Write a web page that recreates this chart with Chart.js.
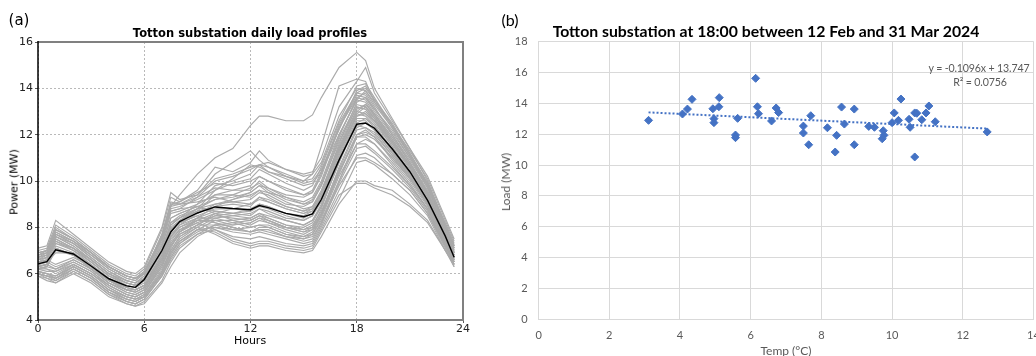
<!DOCTYPE html>
<html>
<head>
<meta charset="utf-8">
<script src="https://cdn.jsdelivr.net/npm/chart.js@4.4.1/dist/chart.umd.min.js"></script>
<style>
  html, body { margin: 0; padding: 0; background: #fff; overflow: hidden; }
  body { width: 1036px; height: 356px; position: relative; }
  .box { position: absolute; top: 0; height: 356px; }
  #boxA { left: 0; width: 490px; }
  #boxB { left: 490px; width: 570px; }
  .txt { position: absolute; white-space: nowrap; transform: translate(-50%, -50%); line-height: 1; }
  .mpl { font-family: "DejaVu Sans", sans-serif; color: #000; }
  .xl { font-family: Lato, "Open Sans", sans-serif; color: #595959; }
  .rot { transform: translate(-50%, -50%) rotate(-90deg); }
</style>
</head>
<body>
<div class="box" id="boxA"><canvas id="profileChart"></canvas></div>
<div class="box" id="boxB"><canvas id="scatterChart"></canvas></div>

<div class="txt mpl" style="left:19px; top:20px; font-size:15px;">(a)</div>
<div class="txt mpl" style="left:250px; top:34px; font-size:11.5px; font-weight:bold;">Totton substation daily load profiles</div>
<div class="txt mpl rot" style="left:14px; top:182px; font-size:11px;">Power (MW)</div>
<div class="txt mpl" style="left:250px; top:340px; font-size:11px;">Hours</div>

<div class="txt xl" style="left:510px; top:20px; font-size:16px; color:#000;">(b)</div>
<div class="txt xl" style="left:766px; top:31px; font-size:15.8px; font-weight:bold; color:#000;">Totton substation at 18:00 between 12 Feb and 31 Mar 2024</div>
<div class="txt xl rot" style="left:506px; top:182px; font-size:12px;">Load (MW)</div>
<div class="txt xl" style="left:786px; top:351px; font-size:12px;">Temp (°C)</div>
<div class="txt xl" style="left:979px; top:68px; font-size:10.6px; letter-spacing:-0.15px;">y = -0.1096x + 13.747</div>
<div class="txt xl" style="left:980px; top:82px; font-size:10.6px; letter-spacing:-0.15px;">R² = 0.0756</div>

<script>
// (a) daily load profiles, hours of the day
const hours = [0, 0.5, 1, 2, 3, 4, 5, 5.5, 6, 7, 7.5, 8, 9, 10, 11, 12, 12.5, 13, 14, 15, 15.5, 16, 17, 18, 18.5, 19, 20, 21, 22, 23, 23.5];
const hourTicks = [0, 6, 12, 18, 24];
const powerTicks = [4, 6, 8, 10, 12, 14, 16];

// average profile (black)
const meanLoad = [6.42, 6.52, 7.03, 6.85, 6.33, 5.78, 5.47, 5.41, 5.75, 7.0, 7.8, 8.25, 8.62, 8.88, 8.81, 8.76, 8.94, 8.85, 8.6, 8.46, 8.58, 9.2, 10.9, 12.45, 12.5, 12.28, 11.39, 10.4, 9.16, 7.62, 6.71];

// individual days (grey)
const dailyLoads = [
  [6.9, 7.0, 7.6, 7.3, 6.8, 6.3, 5.9, 5.8, 6.1, 7.6, 8.9, 9.4, 10.3, 11.0, 11.4, 12.4, 12.8, 12.8, 12.6, 12.6, 12.85, 13.6, 14.9, 15.55, 15.2, 14.0, 12.7, 11.4, 10.0, 8.1, 7.1],
  [7.1, 7.2, 8.3, 7.7, 7.1, 6.5, 6.1, 6.0, 6.3, 8.0, 9.5, 9.2, 9.4, 10.3, 10.8, 11.3, 10.9, 10.6, 10.2, 10.0, 10.3, 11.5, 14.1, 14.4, 14.3, 13.4, 12.4, 11.3, 10.1, 8.3, 7.4],
  [7.0, 7.1, 8.1, 7.6, 7.0, 6.4, 6.0, 5.9, 6.2, 7.9, 9.3, 9.1, 9.6, 10.6, 10.4, 10.8, 11.3, 10.9, 10.5, 10.3, 10.4, 11.0, 13.2, 14.3, 14.9, 13.8, 12.6, 11.4, 10.2, 8.4, 7.5],
  [6.8, 6.9, 7.9, 7.5, 6.9, 6.3, 5.9, 5.8, 6.0, 7.7, 9.0, 9.0, 9.4, 10.1, 10.3, 10.6, 10.7, 10.8, 10.5, 10.2, 10.3, 10.8, 12.8, 14.0, 13.9, 13.3, 12.3, 11.1, 9.9, 8.2, 7.3],
  [6.7, 6.8, 7.8, 7.4, 6.8, 6.2, 5.8, 5.7, 6.0, 7.5, 8.8, 8.9, 9.2, 9.6, 9.9, 10.1, 10.5, 10.3, 9.9, 9.6, 9.8, 10.6, 12.5, 13.8, 13.7, 13.1, 12.1, 11.0, 9.8, 8.0, 7.2],
  [6.6, 6.8, 7.7, 7.3, 6.7, 6.1, 5.7, 5.6, 5.9, 7.3, 8.6, 8.7, 9.0, 9.4, 9.6, 9.8, 10.2, 10.0, 9.6, 9.4, 9.5, 10.3, 12.3, 13.6, 13.5, 12.9, 11.9, 10.8, 9.6, 7.9, 7.0],
  [6.6, 6.7, 7.6, 7.2, 6.6, 6.0, 5.7, 5.6, 5.8, 7.2, 8.4, 8.6, 8.9, 9.2, 9.3, 9.5, 9.8, 9.7, 9.3, 9.1, 9.3, 10.0, 12.0, 13.5, 13.4, 12.8, 11.8, 10.7, 9.5, 7.8, 6.9],
  [6.5, 6.6, 7.5, 7.1, 6.5, 5.9, 5.6, 5.5, 5.7, 7.0, 8.2, 8.5, 8.8, 9.0, 9.1, 9.2, 9.5, 9.4, 9.0, 8.9, 9.1, 9.8, 11.8, 13.3, 13.2, 12.7, 11.6, 10.6, 9.4, 7.7, 6.9],
  [6.4, 6.6, 7.4, 7.0, 6.5, 5.9, 5.5, 5.4, 5.7, 6.9, 8.0, 8.3, 8.7, 8.9, 9.0, 8.9, 9.3, 9.2, 8.9, 8.7, 8.9, 9.6, 11.5, 13.2, 13.1, 12.6, 11.6, 10.5, 9.3, 7.7, 6.8],
  [6.4, 6.5, 7.3, 7.0, 6.4, 5.8, 5.5, 5.4, 5.6, 6.8, 7.9, 8.2, 8.5, 8.8, 8.8, 8.7, 9.0, 8.9, 8.6, 8.5, 8.7, 9.4, 11.3, 13.0, 12.9, 12.5, 11.5, 10.4, 9.2, 7.6, 6.8],
  [6.3, 6.4, 7.2, 6.9, 6.3, 5.7, 5.4, 5.3, 5.5, 6.6, 7.7, 8.1, 8.4, 8.7, 8.6, 8.5, 8.8, 8.7, 8.4, 8.3, 8.5, 9.2, 11.1, 12.9, 12.8, 12.4, 11.4, 10.3, 9.1, 7.6, 6.7],
  [6.3, 6.4, 7.1, 6.8, 6.2, 5.7, 5.3, 5.3, 5.5, 6.6, 7.6, 8.0, 8.3, 8.6, 8.5, 8.4, 8.6, 8.5, 8.3, 8.1, 8.3, 9.0, 10.9, 12.7, 12.7, 12.3, 11.3, 10.2, 9.0, 7.5, 6.7],
  [6.2, 6.3, 7.0, 6.8, 6.2, 5.6, 5.3, 5.2, 5.4, 6.5, 7.5, 7.9, 8.2, 8.5, 8.4, 8.3, 8.5, 8.4, 8.1, 8.0, 8.2, 8.9, 10.8, 12.6, 12.6, 12.2, 11.2, 10.2, 9.0, 7.5, 6.6],
  [6.2, 6.2, 6.0, 6.4, 6.0, 5.4, 5.0, 4.9, 5.1, 6.1, 7.0, 7.6, 8.1, 8.5, 8.6, 8.7, 8.9, 8.8, 8.5, 8.3, 8.5, 9.1, 11.0, 12.8, 13.0, 12.6, 11.5, 10.4, 9.2, 7.6, 6.7],
  [6.1, 6.0, 5.8, 6.3, 5.9, 5.3, 4.9, 4.8, 5.0, 6.0, 6.9, 7.5, 8.0, 8.4, 8.5, 8.6, 8.8, 8.6, 8.3, 8.1, 8.3, 8.9, 10.8, 12.5, 12.7, 12.4, 11.3, 10.3, 9.1, 7.5, 6.6],
  [6.0, 5.9, 5.7, 6.2, 5.8, 5.2, 4.8, 4.7, 4.9, 5.9, 6.7, 7.3, 7.9, 8.3, 8.3, 8.4, 8.6, 8.4, 8.1, 7.9, 8.1, 8.7, 10.5, 12.2, 12.3, 12.1, 11.1, 10.1, 9.0, 7.4, 6.5],
  [6.0, 5.8, 5.6, 6.1, 5.7, 5.1, 4.7, 4.6, 4.8, 5.7, 6.5, 7.1, 7.7, 8.1, 8.1, 8.2, 8.4, 8.2, 7.9, 7.7, 7.9, 8.5, 10.3, 12.0, 12.1, 11.9, 10.9, 10.0, 8.9, 7.3, 6.5],
  [5.9, 5.7, 5.6, 6.0, 5.6, 5.0, 4.7, 4.6, 4.7, 5.6, 6.3, 6.9, 7.6, 8.0, 7.9, 8.0, 8.1, 8.0, 7.7, 7.5, 7.7, 8.3, 10.0, 11.6, 11.8, 11.6, 10.7, 9.8, 8.8, 7.2, 6.4],
  [5.9, 5.8, 5.7, 6.1, 5.7, 5.1, 4.8, 4.7, 4.9, 5.9, 6.6, 7.2, 7.7, 7.9, 7.6, 7.5, 7.6, 7.5, 7.3, 7.2, 7.3, 8.0, 9.6, 11.1, 11.2, 11.0, 10.3, 9.6, 8.6, 7.1, 6.3],
  [6.0, 5.9, 5.8, 6.2, 5.8, 5.2, 4.9, 4.8, 5.0, 6.0, 6.8, 7.4, 7.9, 7.8, 7.4, 7.2, 7.3, 7.3, 7.1, 7.0, 7.1, 7.8, 9.2, 10.8, 10.9, 10.7, 10.1, 9.4, 8.5, 7.0, 6.3],
  [6.1, 6.0, 5.9, 6.3, 5.9, 5.3, 5.0, 4.9, 5.1, 6.2, 7.0, 7.6, 8.0, 7.7, 7.3, 7.1, 7.2, 7.2, 7.0, 6.9, 7.0, 7.6, 9.0, 10.0, 10.0, 9.8, 9.6, 9.0, 8.3, 7.0, 6.4],
  [6.3, 6.4, 6.2, 6.5, 6.1, 5.5, 5.1, 5.0, 5.2, 6.4, 7.3, 7.8, 8.2, 7.9, 7.5, 7.3, 7.4, 7.4, 7.2, 7.1, 7.2, 7.9, 9.4, 9.9, 9.9, 9.7, 9.4, 8.9, 8.2, 7.0, 6.4],
  [6.4, 6.5, 6.3, 6.6, 6.2, 5.6, 5.2, 5.1, 5.3, 6.5, 7.4, 7.9, 8.3, 8.2, 8.0, 7.8, 7.9, 7.9, 7.6, 7.5, 7.6, 8.2, 9.8, 11.0, 11.0, 10.8, 10.3, 9.6, 8.6, 7.2, 6.5],
  [6.5, 6.6, 6.4, 6.7, 6.3, 5.7, 5.3, 5.2, 5.4, 6.7, 7.6, 8.0, 8.4, 8.4, 8.2, 8.0, 8.1, 8.1, 7.8, 7.6, 7.7, 8.4, 10.2, 11.6, 11.6, 11.3, 10.6, 9.8, 8.8, 7.3, 6.6],
  [6.8, 6.9, 7.4, 7.1, 6.6, 6.0, 5.6, 5.5, 5.7, 7.1, 8.1, 8.4, 9.0, 9.8, 10.0, 10.3, 10.7, 10.4, 10.2, 9.9, 10.0, 10.5, 12.2, 13.9, 14.1, 13.5, 12.5, 11.2, 9.9, 8.1, 7.2],
  [6.7, 6.8, 7.7, 7.3, 6.7, 6.1, 5.7, 5.6, 5.9, 7.4, 8.7, 8.8, 9.3, 10.0, 10.2, 10.5, 10.7, 10.6, 10.3, 10.0, 10.1, 10.7, 12.6, 14.1, 14.2, 13.6, 12.4, 11.1, 9.8, 8.0, 7.2],
  [6.5, 6.7, 7.5, 7.1, 6.5, 5.9, 5.6, 5.5, 5.7, 7.0, 8.2, 8.4, 8.7, 9.4, 9.4, 9.3, 9.6, 9.5, 9.3, 9.0, 9.1, 9.8, 11.7, 13.2, 13.1, 12.7, 11.7, 10.6, 9.4, 7.7, 6.9],
  [6.3, 6.4, 7.1, 6.8, 6.3, 5.7, 5.4, 5.3, 5.5, 6.7, 7.8, 8.2, 8.5, 8.2, 8.0, 7.8, 8.0, 8.0, 7.7, 7.6, 7.8, 8.5, 10.4, 12.0, 12.2, 11.9, 11.0, 10.1, 9.0, 7.5, 6.7],
  [6.2, 6.1, 6.1, 6.5, 6.1, 5.5, 5.1, 5.0, 5.2, 6.3, 7.2, 7.7, 8.1, 8.6, 8.8, 9.0, 9.2, 9.1, 8.8, 8.6, 8.7, 9.3, 11.2, 12.9, 13.2, 12.8, 11.7, 10.6, 9.3, 7.6, 6.7],
  [6.0, 5.9, 5.9, 6.3, 5.9, 5.3, 4.9, 4.8, 5.0, 6.0, 6.9, 7.4, 7.9, 8.0, 7.8, 7.7, 7.8, 7.7, 7.5, 7.3, 7.4, 8.1, 9.9, 11.4, 11.5, 11.2, 10.5, 9.7, 8.7, 7.2, 6.4],
  [6.9, 7.0, 7.9, 7.5, 6.9, 6.3, 5.9, 5.8, 6.0, 7.7, 9.1, 9.0, 9.3, 9.7, 9.6, 9.6, 10.0, 9.7, 9.4, 9.3, 9.5, 10.2, 12.3, 13.7, 13.6, 13.0, 12.0, 10.9, 9.7, 8.0, 7.1],
  [6.6, 6.7, 7.6, 7.2, 6.6, 6.0, 5.6, 5.5, 5.8, 7.2, 8.4, 8.6, 8.9, 8.6, 8.3, 8.1, 8.3, 8.2, 8.0, 7.9, 8.0, 8.8, 10.9, 12.4, 12.3, 12.0, 11.1, 10.2, 9.1, 7.6, 6.8],
  [6.5, 6.5, 6.9, 6.9, 6.4, 5.8, 5.4, 5.3, 5.5, 6.8, 7.9, 8.3, 8.8, 9.2, 9.4, 9.7, 9.9, 9.6, 9.2, 9.0, 9.2, 9.9, 11.9, 13.6, 13.8, 13.2, 12.0, 10.8, 9.5, 7.8, 6.9],
  [6.1, 6.0, 5.9, 6.4, 6.0, 5.4, 5.0, 4.9, 5.0, 6.1, 7.1, 7.8, 8.4, 8.9, 9.2, 9.5, 9.8, 9.5, 9.1, 8.8, 8.9, 9.5, 11.4, 13.0, 13.3, 12.9, 11.9, 10.8, 9.5, 7.7, 6.8],
  [6.7, 6.9, 7.8, 7.4, 6.8, 6.2, 5.8, 5.7, 6.0, 7.5, 8.9, 9.0, 9.1, 9.3, 9.1, 9.0, 9.3, 9.1, 8.8, 8.6, 8.8, 9.5, 11.6, 13.4, 13.6, 13.1, 12.2, 11.0, 9.7, 7.9, 7.0],
  [6.4, 6.3, 6.2, 6.6, 6.2, 5.6, 5.2, 5.1, 5.3, 6.4, 7.3, 7.8, 8.3, 8.3, 8.1, 8.2, 8.4, 8.3, 8.0, 7.8, 7.9, 8.6, 10.6, 12.3, 12.5, 12.2, 11.2, 10.2, 9.0, 7.4, 6.6],
  [6.2, 6.3, 7.1, 6.8, 6.3, 5.7, 5.3, 5.2, 5.4, 6.6, 7.6, 8.1, 8.6, 9.0, 9.2, 9.4, 9.6, 9.3, 8.9, 8.7, 8.8, 9.5, 11.4, 13.1, 13.3, 12.9, 11.8, 10.7, 9.4, 7.7, 6.8],
  [6.9, 7.0, 7.7, 7.4, 6.9, 6.3, 5.9, 5.8, 6.1, 7.6, 8.7, 8.8, 8.9, 8.7, 8.6, 8.8, 9.0, 8.9, 8.6, 8.4, 8.6, 9.3, 11.3, 12.8, 12.9, 12.6, 11.7, 10.7, 9.5, 7.8, 6.9],
  [6.0, 5.9, 5.8, 6.2, 5.8, 5.2, 4.8, 4.7, 4.9, 5.9, 6.7, 7.3, 7.8, 8.1, 8.2, 8.3, 8.5, 8.3, 8.0, 7.8, 8.0, 8.6, 10.4, 11.9, 12.0, 11.8, 11.0, 10.1, 9.0, 7.4, 6.5],
  [6.6, 6.7, 7.3, 7.1, 6.6, 6.0, 5.6, 5.5, 5.7, 7.0, 8.1, 8.4, 8.8, 9.6, 10.1, 10.7, 10.6, 10.4, 10.1, 9.8, 9.9, 10.4, 12.0, 13.5, 13.9, 13.4, 12.3, 11.1, 9.8, 8.0, 7.1],
  [6.3, 6.2, 6.1, 6.4, 6.0, 5.5, 5.1, 5.0, 5.2, 6.3, 7.2, 7.7, 8.1, 8.1, 7.9, 7.8, 7.9, 7.8, 7.6, 7.4, 7.5, 8.2, 10.0, 11.9, 11.9, 11.6, 10.8, 9.9, 8.8, 7.3, 6.5],
  [6.8, 7.0, 8.0, 7.5, 6.9, 6.3, 5.9, 5.8, 6.0, 7.6, 9.0, 9.1, 9.5, 9.9, 9.8, 10.0, 10.2, 10.0, 9.7, 9.4, 9.6, 10.4, 12.4, 13.8, 14.0, 13.5, 12.4, 11.2, 9.9, 8.1, 7.2]
];

// (b) load at 18:00 against temperature
const tempC = [3.11, 4.07, 4.21, 4.34, 4.93, 4.96, 4.96, 5.10, 5.11, 5.63, 5.57, 5.57, 6.14, 6.19, 6.22, 6.59, 6.72, 6.79,
  7.49, 7.49, 7.64, 7.70, 8.17, 8.39, 8.43, 8.57, 8.65, 8.93, 8.93, 9.34, 9.50, 9.75, 9.77, 9.72, 10.00, 10.06, 10.18,
  10.25, 10.48, 10.51, 10.64, 10.70, 10.64, 10.84, 10.96, 11.04, 11.22, 12.69];
const loadMW = [12.89, 13.30, 13.62, 14.25, 13.64, 13.00, 12.74, 13.77, 14.36, 13.02, 11.94, 11.77, 15.61, 13.77, 13.32, 12.85, 13.69, 13.39,
  12.52, 12.07, 11.31, 13.19, 12.41, 10.84, 11.92, 13.75, 12.65, 13.62, 11.31, 12.50, 12.44, 12.22, 11.92, 11.70, 12.74, 13.37, 12.89,
  14.27, 12.96, 12.44, 13.37, 13.35, 10.52, 12.93, 13.37, 13.82, 12.80, 12.14];
const trendSlope = -0.1096;
const trendIntercept = 13.747;
const tempTicks = [0, 2, 4, 6, 8, 10, 12, 14];
const loadTicks = [0, 2, 4, 6, 8, 10, 12, 14, 16, 18];

// matplotlib style frame: black left spine, grey others
const frameA = {
  id: 'frameA',
  afterDraw(chart) {
    const { ctx, chartArea: a } = chart;
    ctx.save();
    ctx.strokeStyle = '#808080';
    ctx.lineWidth = 2;
    ctx.beginPath();
    ctx.moveTo(a.left, a.top);
    ctx.lineTo(a.right, a.top);
    ctx.lineTo(a.right, a.bottom);
    ctx.lineTo(a.left, a.bottom);
    ctx.stroke();
    ctx.strokeStyle = '#000';
    ctx.lineWidth = 1.5;
    ctx.beginPath();
    ctx.moveTo(a.left, a.top - 1);
    ctx.lineTo(a.left, a.bottom + 1);
    ctx.stroke();
    ctx.restore();
  }
};

document.addEventListener('DOMContentLoaded', function() {
    const mplFont = { family: 'DejaVu Sans', size: 11 };

    const profileSets = [{
        data: hours.map((h, i) => ({ x: h, y: meanLoad[i] })),
        borderColor: '#000',
        borderWidth: 1.4
    }];
    dailyLoads.forEach(day => {
        profileSets.push({
            data: hours.map((h, i) => ({ x: h, y: day[i] })),
            borderColor: '#aaaaaa',
            borderWidth: 1.15
        });
    });

    new Chart(document.getElementById('profileChart'), {
        type: 'line',
        data: { datasets: profileSets },
        plugins: [frameA],
        options: {
            responsive: true,
            maintainAspectRatio: false,
            animation: false,
            events: [],
            elements: { point: { radius: 0 }, line: { tension: 0 } },
            layout: { padding: { left: 0, right: 27, top: 42, bottom: 0 } },
            plugins: { legend: { display: false }, tooltip: { enabled: false } },
            scales: {
                x: {
                    type: 'linear',
                    min: 0,
                    max: 24,
                    afterFit: s => { s.height = 36; },
                    afterBuildTicks: s => { s.ticks = hourTicks.map(v => ({ value: v })); },
                    ticks: { font: mplFont, color: '#222', padding: 0, maxRotation: 0 },
                    grid: { color: '#a8a8a8', lineWidth: 0.8, tickLength: 3, tickColor: '#333', tickBorderDash: [] },
                    border: { display: false, dash: [2, 2] }
                },
                y: {
                    min: 4,
                    max: 16,
                    afterFit: s => { s.width = 38; },
                    afterBuildTicks: s => { s.ticks = powerTicks.map(v => ({ value: v })); },
                    ticks: { font: mplFont, color: '#222', padding: 2 },
                    grid: { color: '#a8a8a8', lineWidth: 0.8, tickLength: 3, tickColor: '#333', tickBorderDash: [] },
                    border: { display: false, dash: [2, 2] }
                }
            }
        }
    });

    // Scatter with dotted linear trendline
    const tMin = Math.min(...tempC);
    const tMax = Math.max(...tempC);
    const xlFont = { family: 'Lato', size: 11 };

    new Chart(document.getElementById('scatterChart'), {
        type: 'scatter',
        data: {
            datasets: [
                {
                    type: 'line',
                    data: [
                        { x: tMin, y: trendSlope * tMin + trendIntercept },
                        { x: tMax, y: trendSlope * tMax + trendIntercept }
                    ],
                    borderColor: '#4472C4',
                    borderWidth: 2,
                    borderDash: [2, 2],
                    pointRadius: 0
                },
                {
                    data: tempC.map((t, i) => ({ x: t, y: loadMW[i] })),
                    pointStyle: 'rectRot',
                    pointRadius: 4,
                    backgroundColor: '#4472C4',
                    borderColor: '#4472C4',
                    borderWidth: 1
                }
            ]
        },
        options: {
            responsive: true,
            maintainAspectRatio: false,
            animation: false,
            events: [],
            layout: { padding: { left: 0, right: 26.5, top: 41.4, bottom: 0 } },
            plugins: { legend: { display: false }, tooltip: { enabled: false } },
            scales: {
                x: {
                    type: 'linear',
                    min: 0,
                    max: 14,
                    afterFit: s => { s.height = 36.5; },
                    afterBuildTicks: s => { s.ticks = tempTicks.map(v => ({ value: v })); },
                    ticks: { font: xlFont, color: '#595959', padding: 9, maxRotation: 0 },
                    grid: { color: '#d9d9d9', lineWidth: 1, drawTicks: false },
                    border: { color: '#d9d9d9', width: 1 }
                },
                y: {
                    min: 0,
                    max: 18,
                    afterFit: s => { s.width = 48.6; },
                    afterBuildTicks: s => { s.ticks = loadTicks.map(v => ({ value: v })); },
                    ticks: { font: xlFont, color: '#595959', padding: 11 },
                    grid: { color: '#d9d9d9', lineWidth: 1, drawTicks: false },
                    border: { color: '#d9d9d9', width: 1 }
                }
            }
        }
    });
});
</script>
</body>
</html>
